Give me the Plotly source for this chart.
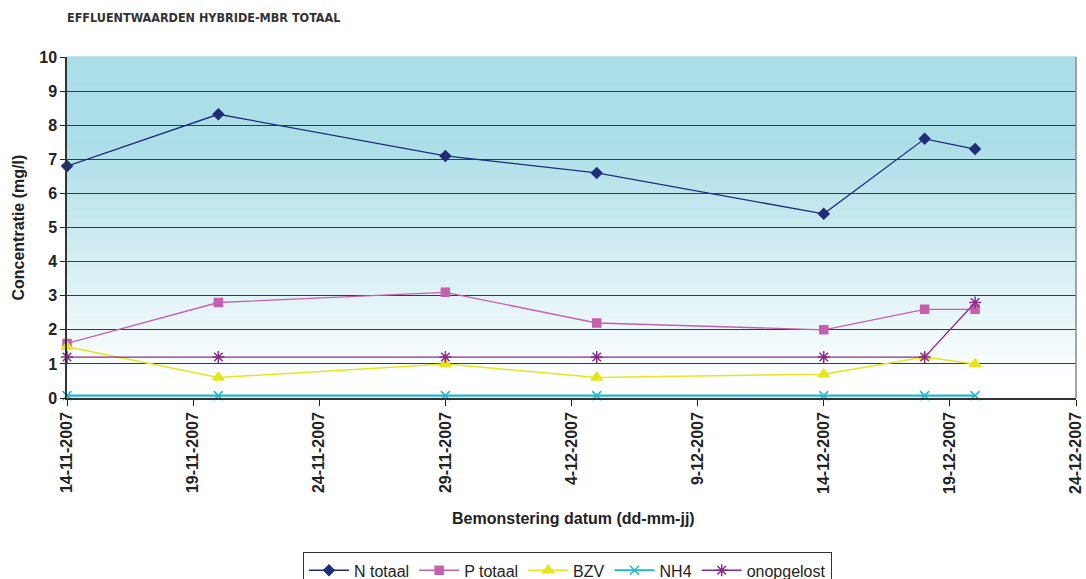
import plotly.graph_objects as go

# Sample dates and effluent concentrations (mg/l)
dates = ["2007-11-14", "2007-11-20", "2007-11-29", "2007-12-05",
         "2007-12-14", "2007-12-18", "2007-12-20"]
n_totaal = [6.8, 8.32, 7.1, 6.6, 5.4, 7.6, 7.3]
p_totaal = [1.6, 2.8, 3.1, 2.2, 2.0, 2.6, 2.6]
bzv = [1.5, 0.6, 1.0, 0.6, 0.7, 1.2, 1.0]
nh4 = [0.07, 0.07, 0.07, 0.07, 0.07, 0.07, 0.07]
onopgelost = [1.2, 1.2, 1.2, 1.2, 1.2, 1.2, 2.8]

series_names = ["N totaal", "P totaal", "BZV", "NH4", "onopgelost"]
y_ticks = [0, 1, 2, 3, 4, 5, 6, 7, 8, 9, 10]
x_range = ["2007-11-14", "2007-12-24"]

styles = [
    dict(color="#1F2D78", symbol="diamond", size=8, width=1.3),
    dict(color="#C561AC", symbol="square", size=8, width=1.3),
    dict(color="#E6E61E", symbol="triangle-up", size=10, width=1.5),
    dict(color="#22B5D2", symbol="x-thin-open", size=9, width=2.2),
    dict(color="#8B2A8C", symbol="asterisk-open", size=10, width=1.3),
]

fig = go.Figure()
for name, vals, st in zip(series_names, [n_totaal, p_totaal, bzv, nh4, onopgelost], styles):
    fig.add_trace(go.Scatter(
        x=dates, y=vals, name=name, mode="lines+markers",
        line=dict(color=st["color"], width=st["width"]),
        marker=dict(color=st["color"], symbol=st["symbol"], size=st["size"],
                    line=dict(color=st["color"], width=1.5)),
        cliponaxis=False,
    ))

# vertical gradient in the plot area: light blue in the upper part fading to white
steps = 100
top = (172, 222, 232)
for i in range(steps):
    v = (i + 0.5) / steps * 10
    f = min(max((v - 0.5) / 7.0, 0.0), 1.0)
    r = round(255 + (top[0] - 255) * f)
    g = round(255 + (top[1] - 255) * f)
    b = round(255 + (top[2] - 255) * f)
    fig.add_shape(type="rect", xref="x domain", yref="y domain",
                  x0=0, x1=1, y0=i / steps, y1=(i + 1) / steps + 0.002,
                  fillcolor=f"rgb({r},{g},{b})", line=dict(width=0), layer="below")

# right border of the plot area
fig.add_shape(type="line", xref="x domain", yref="y domain", x0=1, x1=1, y0=0, y1=1,
              line=dict(color="#888888", width=1.5))

fig.update_layout(
    width=1086, height=579,
    margin=dict(l=67, r=10, t=57, b=181, autoexpand=False),
    paper_bgcolor="white", plot_bgcolor="white",
    font=dict(family="Liberation Sans, Arial, sans-serif", color="#222222"),
    showlegend=True,
    legend=dict(orientation="h", xref="container", yref="container",
                x=0.279, xanchor="left", y=0.046, yanchor="top",
                font=dict(size=16, color="#222222"), bordercolor="#333333", borderwidth=1,
                bgcolor="white", itemwidth=40, tracegroupgap=0),
    annotations=[
        dict(text="<b>EFFLUENTWAARDEN HYBRIDE-MBR TOTAAL</b>", xref="paper", yref="paper",
             x=-0.002, y=1.117, xanchor="left", yanchor="middle", showarrow=False,
             font=dict(family="DejaVu Sans Condensed, DejaVu Sans", size=12.5, color="#333333")),
        dict(text="<b>Concentratie (mg/l)</b>", xref="paper", yref="paper",
             x=-0.0485, y=0.5, xanchor="center", yanchor="middle", textangle=-90,
             showarrow=False, font=dict(size=16, color="#222222")),
        dict(text="<b>Bemonstering datum (dd-mm-jj)</b>", xref="paper", yref="paper",
             x=0.502, y=-0.352, xanchor="center", yanchor="middle",
             showarrow=False, font=dict(size=16, color="#222222")),
    ],
)

fig.update_xaxes(
    type="date", range=x_range, automargin=False, ticklabeloverflow="allow",
    tick0=x_range[0], dtick=5 * 86400000, tickformat="%-d-%m-%Y",
    tickangle=-90, ticks="outside", ticklen=6, tickcolor="#222222",
    tickfont=dict(size=16, weight="bold", color="#222222"),
    showline=True, linecolor="#333333", linewidth=1.5,
    showgrid=False, zeroline=False,
)
fig.update_yaxes(
    range=[0, 10], tickvals=y_ticks, automargin=False,
    ticks="outside", ticklen=5, tickcolor="#222222",
    tickfont=dict(size=16, weight="bold", color="#222222"),
    showline=True, linecolor="#333333", linewidth=1.5,
    showgrid=True, gridcolor="#3a3a3a", gridwidth=1, zeroline=False,
)

fig.write_html("out.html")
